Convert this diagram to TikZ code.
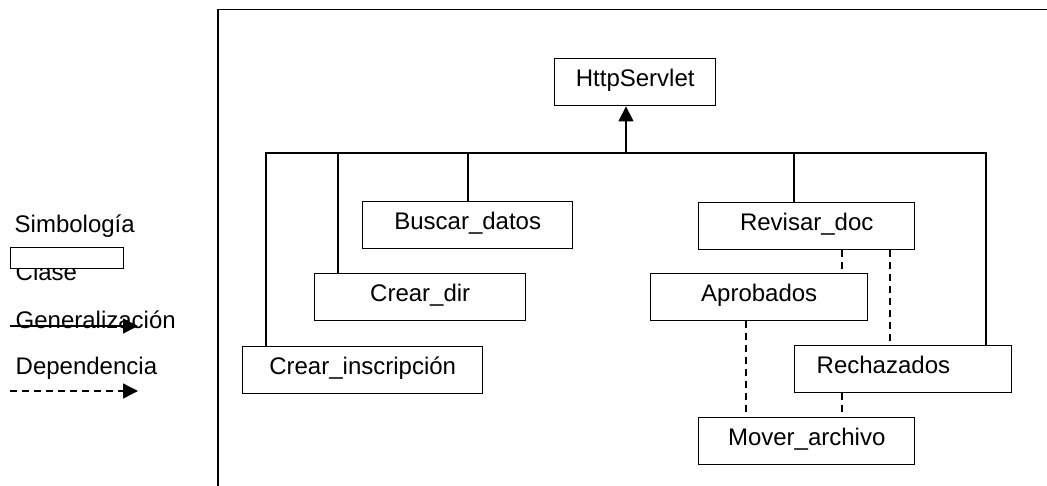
\documentclass[tikz,border=0pt]{standalone}
\usepackage{fontspec}
\setmainfont{Liberation Sans}
\usetikzlibrary{arrows.meta}
\begin{document}
\begin{tikzpicture}[x=1pt,y=-1pt,
  line width=1.4pt,
  classbox/.style={draw, fill=white, line width=1.4pt, inner sep=0pt,
    minimum height=47pt, anchor=north west,
    font=\fontsize{24}{27}\selectfont, text height=17pt, text depth=8pt},
  legendtext/.style={anchor=base west, inner sep=0pt,
    font=\fontsize{24}{27}\selectfont},
  gen/.style={-{Triangle[length=15pt,width=15pt]}},
  dep/.style={dash pattern=on 7pt off 5pt},
  deparrow/.style={dash pattern=on 7pt off 5pt, -{Triangle[length=15pt,width=15pt]}}]
\useasboundingbox (0,0) rectangle (1047,485);
\begin{scope}
\clip (0,0) rectangle (1047,485);
% frame
\coordinate (fTL) at (218,9.5);
\coordinate (fTR) at (1060,9.5);
\coordinate (fBL) at (218,500);
\draw (fTR) -- (fTL) -- (fBL);

% classes
\node[classbox, minimum width=161pt] (http) at (554,58) {HttpServlet};
\node[classbox, minimum width=210pt] (busc) at (362,201) {Buscar\_datos};
\node[classbox, minimum width=211pt] (cdir) at (314,273) {Crear\_dir};
\node[classbox, minimum width=240pt] (cins) at (242,346) {Crear\_inscripción};
\node[classbox, minimum width=216pt] (rev) at (698,202) {Revisar\_doc};
\node[classbox, minimum width=217pt] (aprob) at (650,273) {Aprobados};
\node[classbox, text width=173pt, inner xsep=22pt, align=left] (rech) at (794,345) {Rechazados};
\node[classbox, minimum width=216pt] (mover) at (698,417) {Mover\_archivo};

% inheritance bus
\coordinate (busL) at (266,153);
\coordinate (busR) at (986,153);
\coordinate (tdir) at (338,153);
\coordinate (tbus) at (468,153);
\coordinate (tup) at (626,153);
\coordinate (trev) at (794,153);
\draw (cins.north -| busL) -- (busL) -- (busR) -- (rech.north -| busR);
\draw (tdir) -- (tdir |- cdir.north);
\draw (tbus) -- (tbus |- busc.north);
\draw (trev) -- (trev |- rev.north);
\draw[gen] (tup) -- (tup |- http.south);

% dependencies
\coordinate (d1) at (842,0);
\coordinate (d2) at (890,0);
\coordinate (d3) at (746,0);
\draw[dep] (rev.south -| d1) -- (aprob.north -| d1);
\draw[dep] (rev.south -| d2) -- (rech.north -| d2);
\draw[dep] (aprob.south -| d3) -- (mover.north -| d3);
\draw[dep] (rech.south -| d1) -- (mover.north -| d1);

% legend
\node[legendtext] (lsim) at (14,232) {Simbología};
\node[legendtext] (lcls) at (15,280) {Clase};
\node[draw, fill=white, inner sep=0pt, minimum width=113pt, minimum height=21pt, anchor=north west] (lbox) at (10,247) {};
\node[legendtext] (lgen) at (15,328) {Generalización};
\coordinate (g0) at (10,326);
\coordinate (g1) at (138,326);
\draw[gen] (g0) -- (g1);
\node[legendtext] (ldep) at (15,374) {Dependencia};
\coordinate (e0) at (10,391);
\coordinate (e1) at (138,391);
\draw[deparrow] (e0) -- (e1);
\end{scope}
\end{tikzpicture}
\end{document}
